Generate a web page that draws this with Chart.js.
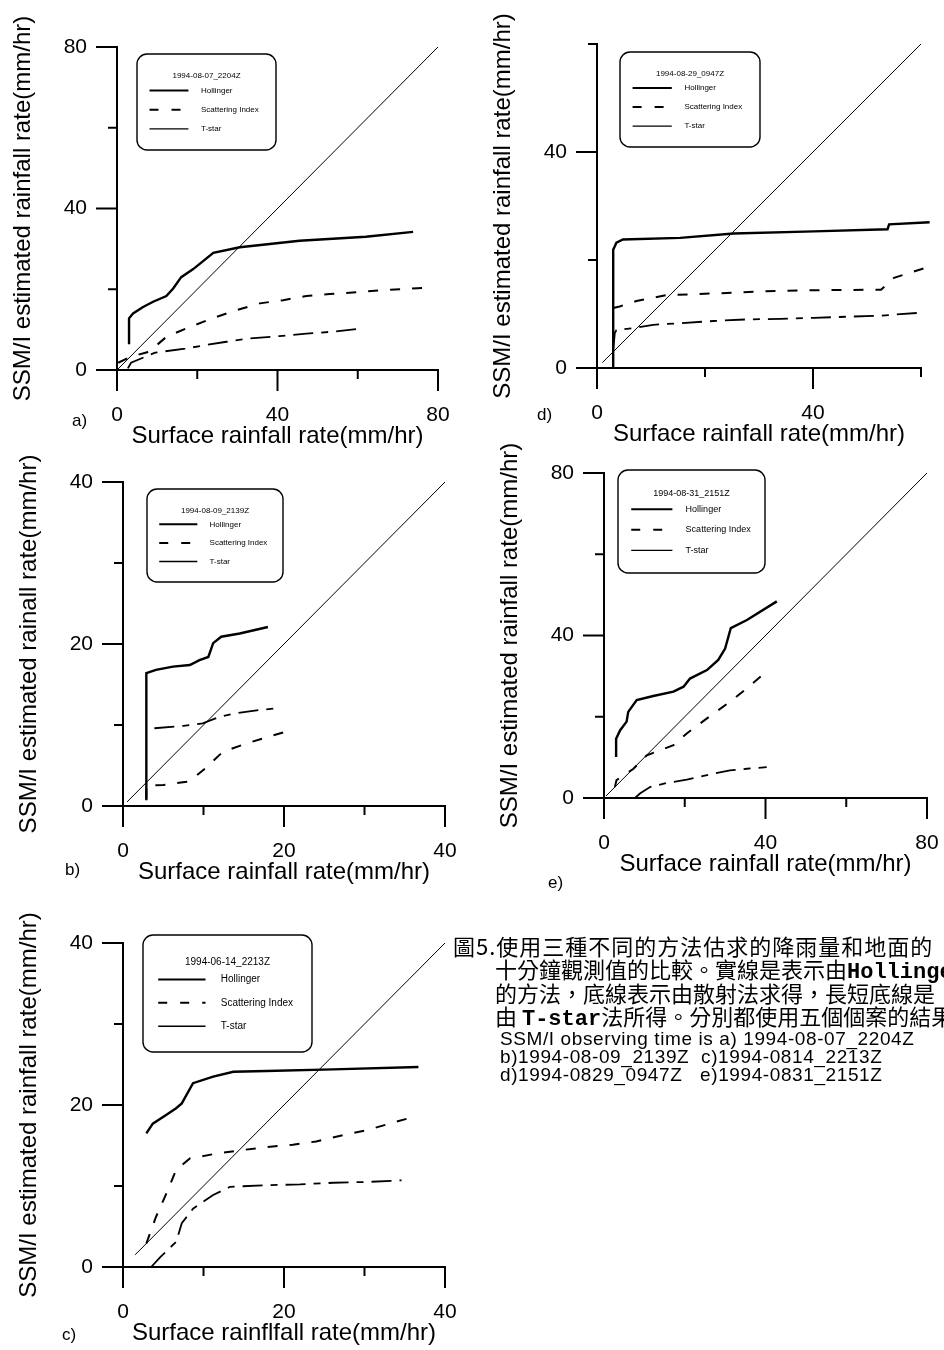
<!DOCTYPE html>
<html>
<head>
<meta charset="utf-8">
<title>SSM/I rainfall comparison</title>
<script src="https://cdn.jsdelivr.net/npm/chart.js@4.4.1/dist/chart.umd.min.js"></script>
<style>
  body { margin: 0; width: 944px; height: 1350px; background: #fff; position: relative; overflow: hidden;
         font-family: "Liberation Sans", Arial, sans-serif; color: #000; }
  canvas { position: absolute; }
  .tag { position: absolute; font-size: 17px; }
  .zh { position: absolute; font-family: "Noto Sans CJK TC", sans-serif; font-size: 22px; white-space: nowrap; line-height: 24px; }
  .zh b { font-family: "Liberation Mono", monospace; font-weight: bold; }
  .en { position: absolute; left: 500px; font-size: 19px; letter-spacing: 0.6px; white-space: pre; line-height: 19px; }
</style>
</head>
<body>
<canvas id="panelA"></canvas>
<canvas id="panelD"></canvas>
<canvas id="panelB"></canvas>
<canvas id="panelE"></canvas>
<canvas id="panelC"></canvas>

<div class="tag" style="left:72px;top:411px">a)</div>
<div class="tag" style="left:537px;top:405px">d)</div>
<div class="tag" style="left:65px;top:860px">b)</div>
<div class="tag" style="left:548px;top:873px">e)</div>
<div class="tag" style="left:62px;top:1325px">c)</div>

<div class="zh" style="left:453px;top:933px;letter-spacing:1px">圖5.使用三種不同的方法估求的降雨量和地面的</div>
<div class="zh" style="left:495px;top:956px">十分鐘觀測值的比較。實線是表示由<b>Hollinge</b></div>
<div class="zh" style="left:495px;top:980px">的方法，底線表示由散射法求得，長短底線是</div>
<div class="zh" style="left:495px;top:1003px">由 <b>T-star</b>法所得。分別都使用五個個案的結果</div>
<div class="en" style="top:1029px">SSM/I observing time is a) 1994-08-07_2204Z</div>
<div class="en" style="top:1047px">b)1994-08-09_2139Z  c)1994-0814_2213Z</div>
<div class="en" style="top:1065px">d)1994-0829_0947Z   e)1994-0831_2151Z</div>

<script>
// [surface rate, SSM/I estimate] pairs
const seriesNames = ["Hollinger", "Scattering Index", "T-star"];

// a) 1994-08-07_2204Z
const hollingerA = [[3,6.4],[3,12.8],[4,14],[6.5,15.6],[9,16.9],[12.3,18.3],[14,20.2],[16,23],[19,25],[24,29],[30.6,30.4],[45.5,32],[62,33],[73.8,34.2]];
const scatterA = [[0.3,1.8],[3.5,3.3],[7.5,4.4],[9,5.4],[12.3,8.2],[17.7,10.5],[23,12.5],[29,14.6],[35.6,16.5],[41.4,17.3],[47.2,18.3],[53,18.8],[60.5,19.3],[66,19.8],[78.4,20.4]];
const tstarA = [[2.7,0.4],[3.5,1.8],[9.5,4.3],[17,5.3],[22.3,6.2],[27.3,7],[33,7.8],[40.5,8.4],[47.2,9],[53.8,9.5],[61.3,10.3]];
const diagA = [[0,0],[80,80]];

// d) 1994-08-29_0947Z
const hollingerD = [[3,0],[3,21.9],[3.6,23.2],[4.8,23.8],[15.4,24.1],[25.3,24.9],[40.2,25.3],[53.8,25.7],[54.1,26.6],[61.6,27]];
const scatterD = [[3,11.1],[4.2,11.4],[7.3,12.4],[12.9,13.5],[21.6,13.8],[30.9,14.2],[40.2,14.4],[52.6,14.5],[55,16.7],[60.7,18.5]];
const tstarD = [[3,3.4],[3.3,6.5],[3.6,7],[6.7,7.4],[10.4,8],[15.4,8.3],[21.6,8.7],[27.8,9],[34,9.1],[40.2,9.3],[46.4,9.5],[52.6,9.7],[59.4,10.2]];
const diagD = [[1,1],[60,60]];

// b) 1994-08-09_2139Z
const hollingerB = [[2.9,0.7],[2.9,16.4],[4.1,16.8],[6.2,17.2],[8.3,17.4],[9.5,18],[10.6,18.4],[11.2,20.1],[12.2,20.9],[14.5,21.3],[18,22.1]];
const scatterB = [[2.9,0.9],[2.9,2.5],[5,2.6],[7.9,3],[8.7,3.4],[10.4,4.8],[12.4,6.7],[15.3,7.7],[18.2,8.6],[21.1,9.4]];
const tstarB = [[3.9,9.6],[7.5,9.9],[9.9,10.2],[12,11],[13.7,11.4],[16.6,11.8],[19.3,12.1]];
const diagB = [[0.5,0.5],[40,40]];

// e) 1994-08-31_2151Z
const hollingerE = [[3,10.1],[3,14.6],[4,16.7],[5.6,18.8],[6,21.2],[8.1,24.1],[12.2,25.1],[17.2,26.2],[19.7,27.4],[21.3,29.4],[25.5,31.5],[28.3,34],[30,36.8],[31.4,41.8],[35.4,43.8],[42.8,48.4]];
const scatterE = [[2.7,2.7],[3.1,4.4],[7.3,7.2],[10.6,10.5],[17.2,13],[20.5,15.9],[25.5,19.6],[31.2,23.7],[35.4,27],[40.7,31.5]];
const tstarE = [[7.7,0],[8.9,1.1],[11.4,2.7],[15.5,3.7],[20.5,4.5],[27.1,6],[31.2,6.8],[35.4,7.2],[40.3,7.6]];
const diagE = [[0.5,0.5],[80,80]];

// c) 1994-06-14_2213Z
const hollingerC = [[2.9,16.5],[3.7,17.7],[5.4,18.8],[6.6,19.6],[7.3,20.2],[8.7,22.7],[11.2,23.5],[13.7,24.1],[17.8,24.2],[26.1,24.4],[36.7,24.7]];
const scatterC = [[2.9,2.9],[4.1,6.2],[5.4,9.1],[6.6,12],[8.3,13.4],[11.6,14],[14.5,14.4],[17.8,14.8],[21.1,15.1],[24,15.5],[27.4,16.3],[30.3,16.9],[35.6,18.4]];
const tstarC = [[3.5,0],[4.6,1.2],[6.6,3.1],[7.3,5.4],[8.7,7.2],[11.2,8.9],[13.3,9.9],[17.8,10.1],[22,10.2],[26.1,10.4],[30.3,10.5],[34.6,10.7]];
const diagC = [[1.5,1.5],[40,40]];

Chart.defaults.font.family = '"Liberation Sans", Arial, sans-serif';
Chart.defaults.color = '#000';

// long ticks for labelled values, short ones in between
const axisTicks = {
  id: 'axisTicks',
  afterDraw(chart, args, opts) {
    const { ctx } = chart;
    const xs = chart.scales.x, ys = chart.scales.y;
    ctx.save();
    ctx.strokeStyle = '#000';
    ctx.lineWidth = 2;
    xs.ticks.forEach(t => {
      const px = xs.getPixelForValue(t.value);
      const len = t.value % opts.major === 0 ? 21 : 9;
      ctx.beginPath(); ctx.moveTo(px, xs.top); ctx.lineTo(px, xs.top + len); ctx.stroke();
    });
    ys.ticks.forEach(t => {
      const py = ys.getPixelForValue(t.value);
      const len = t.value % opts.major === 0 ? 21 : 9;
      ctx.beginPath(); ctx.moveTo(ys.right, py); ctx.lineTo(ys.right - len, py); ctx.stroke();
    });
    ctx.restore();
  }
};

// rounded legend box with the overpass time on top
const legendBox = {
  id: 'legendBox',
  afterDraw(chart, args, o) {
    const { ctx, chartArea } = chart;
    const [dx, dy, w, h] = o.box;
    const x = chartArea.left + dx, y = chartArea.top + dy;
    const dashes = [[], [9, 13], []];
    const widths = [2, 2, 1.4];
    ctx.save();
    ctx.strokeStyle = '#000';
    ctx.fillStyle = '#000';
    ctx.lineWidth = 1.4;
    ctx.beginPath(); ctx.roundRect(x, y, w, h, 10); ctx.stroke();
    ctx.font = `${o.fontSize}px "Liberation Sans", Arial, sans-serif`;
    ctx.textAlign = 'center';
    ctx.textBaseline = 'middle';
    ctx.fillText(o.title, x + w / 2, y + h * 0.23);
    ctx.textAlign = 'left';
    seriesNames.forEach((name, i) => {
      const ly = y + h * (0.38 + 0.2 * i);
      ctx.lineWidth = widths[i];
      ctx.setLineDash(dashes[i]);
      ctx.beginPath(); ctx.moveTo(x + w * 0.09, ly); ctx.lineTo(x + w * 0.37, ly); ctx.stroke();
      ctx.setLineDash([]);
      ctx.fillText(name, x + w * 0.46, ly);
    });
    ctx.restore();
  }
};

const toPoints = list => list.map(([x, y]) => ({ x, y }));

const series = (label, list, width, dash) => ({
  label,
  data: toPoints(list),
  showLine: true,
  borderColor: '#000',
  backgroundColor: '#000',
  borderWidth: width,
  borderDash: dash,
  pointRadius: 0,
  tension: 0,
  clip: false
});

const makePanel = (id, p) => {
  const [left, top, right, bottom] = p.area;
  const canvas = document.getElementById(id);
  canvas.width = right - left + 117 + 30;
  canvas.height = bottom - top + 50 + 82;
  canvas.style.left = (left - 117) + 'px';
  canvas.style.top = (top - 50) + 'px';

  new Chart(canvas, {
    type: 'scatter',
    data: {
      datasets: [
        series(seriesNames[0], p.hollinger, 2.4, []),
        series(seriesNames[1], p.scatter, 2, [10, 12]),
        series(seriesNames[2], p.tstar, 1.8, [20, 8, 7, 8]),
        series('1:1', p.diag, 1, [])
      ]
    },
    options: {
      responsive: false,
      animation: false,
      devicePixelRatio: 1,
      layout: { padding: { top: 50, right: 30, left: 0, bottom: 0 } },
      plugins: {
        legend: { display: false },
        tooltip: { enabled: false },
        axisTicks: { major: p.major },
        legendBox: { box: p.box, fontSize: p.fontSize, title: p.time }
      },
      scales: {
        x: {
          type: 'linear', min: 0, max: p.max,
          afterFit: s => { s.height = 82; s.paddingLeft = 0; s.paddingRight = 0; },
          grid: { display: true, drawOnChartArea: false, drawTicks: false },
          border: { display: true, color: '#000', width: 2 },
          ticks: { stepSize: p.minor, autoSkip: false, maxRotation: 0, padding: 33, font: { size: 21 },
                   callback: v => (v % p.major === 0 ? v : '') },
          title: { display: true, text: p.xTitle, font: { size: 24 }, padding: { top: 0, bottom: 1 } }
        },
        y: {
          type: 'linear', min: 0, max: p.max,
          afterFit: s => { s.width = 117; s.paddingTop = 0; s.paddingBottom = 0; },
          grid: { display: true, drawOnChartArea: false, drawTicks: false },
          border: { display: true, color: '#000', width: 2 },
          ticks: { stepSize: p.minor, autoSkip: false, padding: 30, font: { size: 21 },
                   callback: v => (v % p.major === 0 ? v : '') },
          title: { display: true, text: p.yTitle, font: { size: 24 }, padding: { top: 9, bottom: 0 } }
        }
      }
    },
    plugins: [axisTicks, legendBox]
  });
};

const xTitle = "Surface rainfall rate(mm/hr)";
const yTitle = "SSM/I estimated rainfall rate(mm/hr)";

makePanel("panelA", { area: [117, 47, 438, 370], max: 80, minor: 20, major: 40,
  hollinger: hollingerA, scatter: scatterA, tstar: tstarA, diag: diagA,
  time: "1994-08-07_2204Z", box: [20, 7, 139, 96], fontSize: 8,
  xTitle, yTitle });

makePanel("panelD", { area: [597, 44, 921, 368], max: 60, minor: 20, major: 40,
  hollinger: hollingerD, scatter: scatterD, tstar: tstarD, diag: diagD,
  time: "1994-08-29_0947Z", box: [23, 8, 140, 95], fontSize: 8,
  xTitle, yTitle });

makePanel("panelB", { area: [123, 482, 445, 806], max: 40, minor: 10, major: 20,
  hollinger: hollingerB, scatter: scatterB, tstar: tstarB, diag: diagB,
  time: "1994-08-09_2139Z", box: [24, 7, 136, 93], fontSize: 8,
  xTitle, yTitle: "SSM/I estimated rainall rate(mm/hr)" });

makePanel("panelE", { area: [604, 473, 927, 798], max: 80, minor: 20, major: 40,
  hollinger: hollingerE, scatter: scatterE, tstar: tstarE, diag: diagE,
  time: "1994-08-31_2151Z", box: [14, -3, 147, 103], fontSize: 9,
  xTitle, yTitle });

makePanel("panelC", { area: [123, 943, 445, 1267], max: 40, minor: 10, major: 20,
  hollinger: hollingerC, scatter: scatterC, tstar: tstarC, diag: diagC,
  time: "1994-06-14_2213Z", box: [20, -8, 169, 117], fontSize: 10,
  xTitle: "Surface rainflfall rate(mm/hr)", yTitle });
</script>
</body>
</html>
